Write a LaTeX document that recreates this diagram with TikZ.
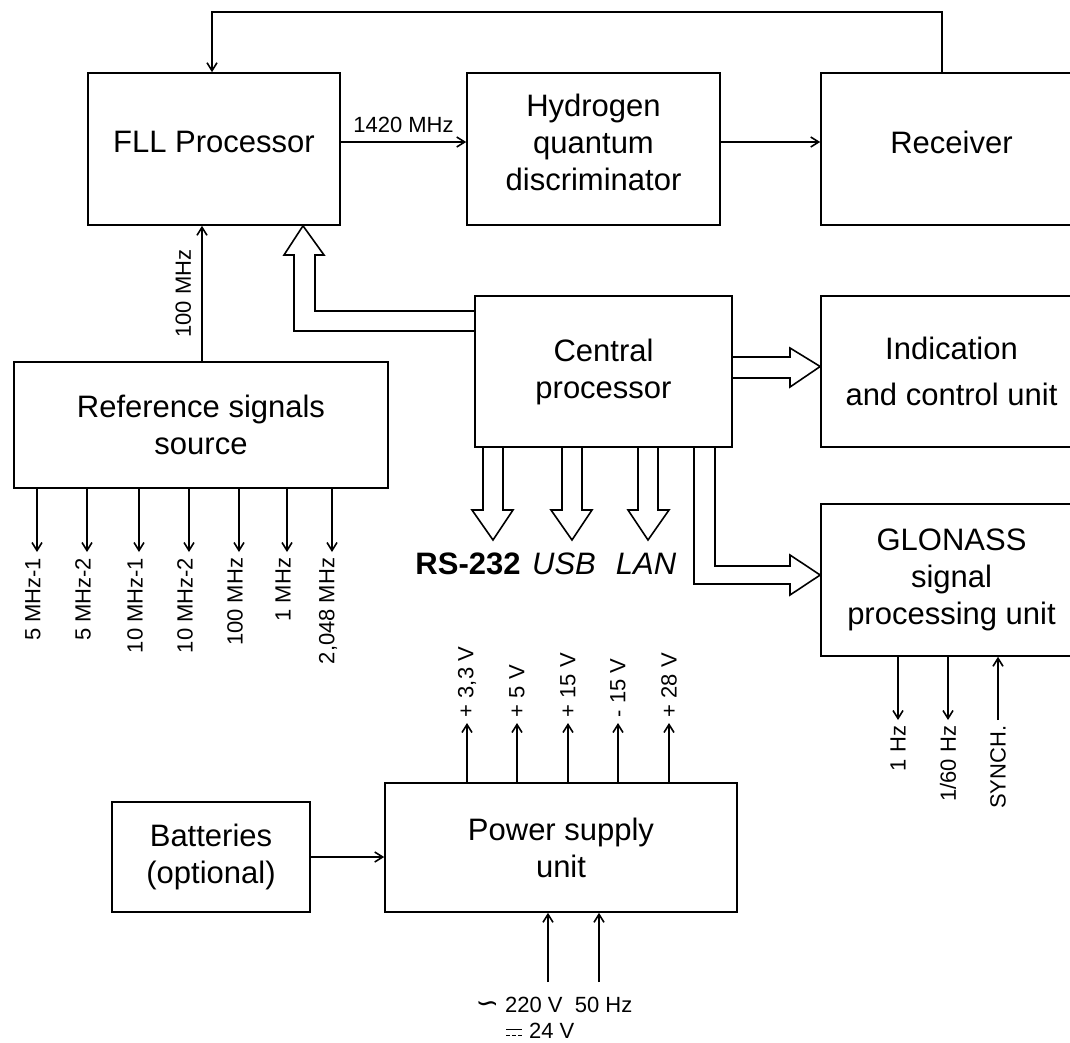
\documentclass[tikz,border=0pt]{standalone}
\usepackage{fontspec}
\setmainfont{Liberation Sans}
\newfontfamily\symfont{DejaVu Sans}
\usetikzlibrary{arrows.meta}

\newcommand\dcsym{\tikz[baseline=0pt, x=1pt, y=1pt]{\draw[line width=1.3pt] (0,9) -- (16,9);
  \draw[line width=1.3pt, dash pattern=on 4pt off 2pt] (0,3) -- (16,3);}}

\tikzset{
  block/.style={draw, line width=1.6pt, align=center, inner sep=0pt, font=\fontsize{31}{37}\selectfont},
  toprow/.style={block, minimum height=152pt, text depth=14pt},
  sig/.style={->, line width=1.6pt},
  bus/.style={line width=1.6pt, line join=miter},
  siglabel/.style={font=\fontsize{22}{26}\selectfont, inner sep=5pt},
  portlabel/.style={font=\fontsize{31}{36}\selectfont, inner sep=0pt}
}

\begin{document}
\begin{tikzpicture}[x=1pt, y=-1pt, >={Straight Barb[length=8pt,width=10pt]}]
\useasboundingbox (0,0) rectangle (1070,1042);
\clip (0,0) rectangle (1070,1042);

% blocks
\node[toprow, minimum width=252pt] (fll) at (214,149) {FLL Processor};
\node[toprow, minimum width=253pt] (hqd) at (593.5,149) {Hydrogen\\quantum\\discriminator};
\node[toprow, minimum width=261pt] (rcv) at (951.5,149) {Receiver};
\node[block, minimum width=257pt, minimum height=151pt] (cpu) at (603.5,371.5) {Central\\processor};
\node[block, minimum width=261pt, minimum height=151pt] (ind) at (951.5,371.5) {Indication\\[9pt]and control unit};
\node[block, minimum width=261pt, minimum height=152pt] (glo) at (951.5,580) {GLONASS\\signal\\processing unit};
\node[block, minimum width=374pt, minimum height=126pt] (ref) at (201,425) {Reference signals\\source};
\node[block, minimum width=352pt, minimum height=129pt] (psu) at (561,847.5) {Power supply\\unit};
\node[block, minimum width=198pt, minimum height=110pt] (bat) at (211,857) {Batteries\\(optional)};

% signal paths
\draw[sig] ([yshift=7pt]fll.east) -- ([yshift=7pt]hqd.west) node[midway, above=3pt, siglabel] {1420 MHz};
\draw[sig] ([yshift=7pt]hqd.east) -- ([yshift=7pt]rcv.west);
\coordinate (fb) at (942,12);
\draw[sig] (rcv.north -| fb) -- (fb) -| ([xshift=-2pt]fll.north);
\draw[sig] ([xshift=1pt]ref.north) -- ([xshift=1pt]ref.north |- fll.south)
  node[midway, xshift=-5pt, rotate=90, anchor=south, siglabel] {100 MHz};

% reference outputs
\foreach \x/\lbl [count=\i] in {37/5 MHz-1, 87/5 MHz-2, 139/10 MHz-1, 189/10 MHz-2, 239/100 MHz, 287/1 MHz, {332/2,048 MHz}} {
  \coordinate (rout\i) at (\x,552);
  \draw[sig] (ref.south -| rout\i) -- (rout\i) node[siglabel, xshift=-4pt, rotate=90, anchor=east] {\lbl};
}

% GLONASS outputs
\coordinate (gout1) at (898,720);
\coordinate (gout2) at (948,720);
\coordinate (gin) at (998,720);
\draw[sig] (glo.south -| gout1) -- (gout1) node[siglabel, rotate=90, anchor=east] {1 Hz};
\draw[sig] (glo.south -| gout2) -- (gout2) node[siglabel, rotate=90, anchor=east] {1/60 Hz};
\draw[sig] (gin) node[siglabel, rotate=90, anchor=east] {SYNCH.} -- (glo.south -| gin);

% power outputs
\foreach \x/\lbl [count=\i] in {{467/+ 3,3 V}, 517/+ 5 V, 568/+ 15 V, 618/- 15 V, 669/+ 28 V} {
  \coordinate (pout\i) at (\x,723);
  \draw[sig] (psu.north -| pout\i) -- (pout\i) node[siglabel, rotate=90, anchor=west] {\lbl};
}

\draw[sig] (bat.east) -- (bat.east -| psu.west);

% mains input
\node[siglabel] (ac) at (554,1005) {{\symfont\fontsize{28}{28}\selectfont ∽} 220 V\ \ 50 Hz};
\node[siglabel] (dc) at (540,1031) {\dcsym\ 24 V};
\coordinate (min1) at (548,982);
\coordinate (min2) at (599,982);
\draw[sig] (min1) -- (psu.south -| min1);
\draw[sig] (min2) -- (psu.south -| min2);

% buses
\draw[bus] (cpu.west |- 0,311) -- (315,311) -- (315,255) -- (324,255) -- ([xshift=89pt]fll.south)
  -- (284,255) -- (294,255) -- (294,331) -- (cpu.west |- 0,331);
\draw[bus] (cpu.east |- 0,357) -- (790,357) -- (790,348) -- ([yshift=5pt]ind.west)
  -- (790,387) -- (790,378) -- (cpu.east |- 0,378);
\draw[bus] (cpu.south -| 715,0) -- (715,566) -- (790,566) -- (790,555) -- ([yshift=5pt]glo.west)
  -- (790,595) -- (790,584) -- (694,584) -- (cpu.south -| 694,0);

\node[portlabel, font=\fontsize{31}{36}\selectfont\bfseries] (rs232) at (468,564) {RS-232};
\node[portlabel, font=\fontsize{31}{36}\selectfont\itshape] (usb) at (564,564) {USB};
\node[portlabel, font=\fontsize{31}{36}\selectfont\itshape] (lan) at (646,564) {LAN};
\draw[bus] (cpu.south -| 483,0) -- (483,510) -- (472,510) -- (493,540) -- (513,510) -- (503,510) -- (cpu.south -| 503,0);
\draw[bus] (cpu.south -| 562,0) -- (562,510) -- (551,510) -- (572,540) -- (592,510) -- (582,510) -- (cpu.south -| 582,0);
\draw[bus] (cpu.south -| 638,0) -- (638,510) -- (628,510) -- (648,540) -- (669,510) -- (658,510) -- (cpu.south -| 658,0);

\end{tikzpicture}
\end{document}
